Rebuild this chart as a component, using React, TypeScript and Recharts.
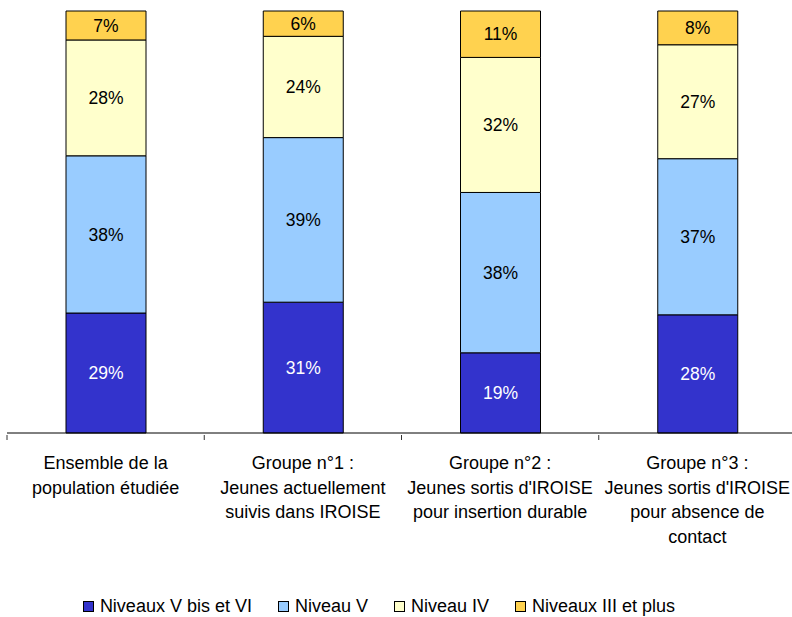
import React from 'react';
import { Bar, BarChart, LabelList, Legend, XAxis, YAxis } from 'recharts';

const categories = [
  ['Ensemble de la', 'population étudiée'],
  ['Groupe n°1 :', 'Jeunes actuellement', 'suivis dans IROISE'],
  ['Groupe n°2 :', "Jeunes sortis d'IROISE", 'pour insertion durable'],
  ['Groupe n°3 :', "Jeunes sortis d'IROISE", 'pour absence de', 'contact'],
];
const niveauxVbisVI = [29, 31, 19, 28];
const niveauV = [38, 39, 38, 37];
const niveauIV = [28, 24, 32, 27];
const niveauxIIIplus = [7, 6, 11, 8];

const series = [
  { key: 'vbis', name: 'Niveaux V bis et VI', color: '#3333CC', label: '#ffffff' },
  { key: 'v', name: 'Niveau V', color: '#99CCFF', label: '#000000' },
  { key: 'iv', name: 'Niveau IV', color: '#FFFFCC', label: '#000000' },
  { key: 'iii', name: 'Niveaux III et plus', color: '#FFD24F', label: '#000000' },
];

const data = categories.map((lines, i) => ({
  name: lines.join('\n'),
  vbis: niveauxVbisVI[i],
  v: niveauV[i],
  iv: niveauIV[i],
  iii: niveauxIIIplus[i],
}));

const W = 800;
const H = 617;
const margin = { top: 11, right: 4, left: 7, bottom: 0 };
const band = (W - margin.left - margin.right) / categories.length;
const FONT = '"Liberation Sans", Arial, sans-serif';

const CategoryTick = (props: any) => {
  const { x, y, payload, index } = props;
  const lines = String(payload.value).split('\n');
  const axisY = y - 6;
  return (
    <g>
      <line x1={x - band / 2} y1={axisY} x2={x - band / 2} y2={axisY + 5} stroke="#333" />
      {index === categories.length - 1 && (
        <line x1={x + band / 2} y1={axisY} x2={x + band / 2} y2={axisY + 5} stroke="#333" />
      )}
      <text x={x} y={axisY + 34} textAnchor="middle" fontSize={18} fill="#000" fontFamily={FONT}>
        {lines.map((l, i) => (
          <tspan key={i} x={x} dy={i === 0 ? 0 : 24.7}>
            {l}
          </tspan>
        ))}
      </text>
    </g>
  );
};

const LegendContent = () => (
  <div
    style={{
      height: 30,
      display: 'flex',
      justifyContent: 'center',
      alignItems: 'center',
      paddingTop: 9,
      paddingRight: 45,
      boxSizing: 'border-box',
      fontFamily: FONT,
      fontSize: 18,
      color: '#000',
      gap: 26,
    }}
  >
    {series.map((s) => (
      <div key={s.key} style={{ display: 'flex', alignItems: 'center', gap: 6 }}>
        <div style={{ width: 9, height: 9, background: s.color, border: '1px solid #000' }} />
        <span>{s.name}</span>
      </div>
    ))}
  </div>
);

export default function App() {
  return (
    <div style={{ position: 'absolute', left: 0, top: 0, width: 792, height: 617, overflow: 'hidden', background: '#fff' }}>
      <BarChart width={W} height={H} data={data} margin={margin} stackOffset="expand" barSize={80}>
        <XAxis
          dataKey="name"
          axisLine={{ stroke: '#000' }}
          tickLine={false}
          interval={0}
          height={154}
          tick={<CategoryTick />}
        />
        <YAxis hide domain={[0, 1]} />
        <Legend verticalAlign="bottom" content={<LegendContent />} />
        {series.map((s) => (
          <Bar
            key={s.key}
            dataKey={s.key}
            name={s.name}
            stackId="a"
            fill={s.color}
            stroke="#000"
            strokeWidth={1}
            isAnimationActive={false}
          >
            <LabelList
              dataKey={s.key}
              position="center"
              formatter={(v: any) => `${v}%`}
              fill={s.label}
              fontSize={17.5}
              fontFamily={FONT}
            />
          </Bar>
        ))}
      </BarChart>
    </div>
  );
}
